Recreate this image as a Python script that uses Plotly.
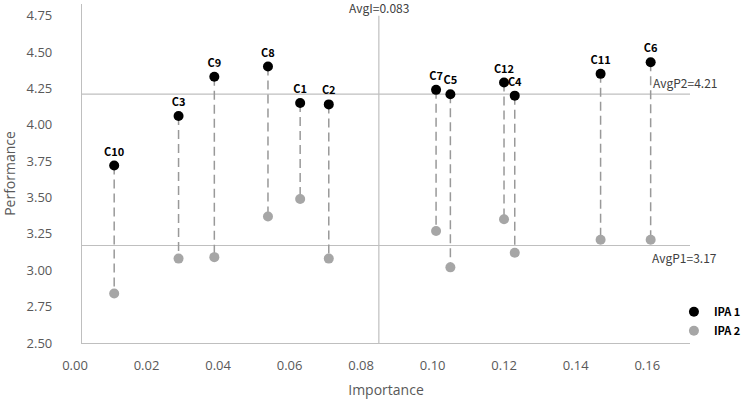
import plotly.graph_objects as go

labels = ["C10", "C3", "C9", "C8", "C1", "C2", "C7", "C5", "C12", "C4", "C11", "C6"]
importance = [0.009, 0.027, 0.037, 0.052, 0.061, 0.069, 0.099, 0.103, 0.118, 0.121, 0.145, 0.159]
ipa1 = [3.72, 4.06, 4.33, 4.40, 4.15, 4.14, 4.24, 4.21, 4.29, 4.20, 4.35, 4.43]
ipa2 = [2.84, 3.08, 3.09, 3.37, 3.49, 3.08, 3.27, 3.02, 3.35, 3.12, 3.21, 3.21]

avg_i = 0.083
avg_p1 = 3.17
avg_p2 = 4.21
x_range = [0, 0.17]
y_range = [2.5, 4.83]
x_ticks = [0.00, 0.02, 0.04, 0.06, 0.08, 0.10, 0.12, 0.14, 0.16]
y_ticks = [2.50, 2.75, 3.00, 3.25, 3.50, 3.75, 4.00, 4.25, 4.50, 4.75]

fig = go.Figure()

# reference lines
fig.add_trace(go.Scatter(x=[avg_i, avg_i], y=[y_range[0], 4.75], mode="lines",
                         line=dict(color="#bfbfbf", width=1.2), showlegend=False, hoverinfo="skip"))
fig.add_trace(go.Scatter(x=x_range, y=[avg_p2, avg_p2], mode="lines",
                         line=dict(color="#bfbfbf", width=1.2), showlegend=False, hoverinfo="skip"))
fig.add_trace(go.Scatter(x=x_range, y=[avg_p1, avg_p1], mode="lines",
                         line=dict(color="#bfbfbf", width=1.2), showlegend=False, hoverinfo="skip"))

# dashed connectors
lx, ly = [], []
for xi, a, b in zip(importance, ipa1, ipa2):
    lx += [xi, xi, None]
    ly += [a, b, None]
fig.add_trace(go.Scatter(x=lx, y=ly, mode="lines",
                         line=dict(color="#999999", width=1.5, dash="9px,5px"),
                         showlegend=False, hoverinfo="skip"))

fig.add_trace(go.Scatter(x=importance, y=ipa2, mode="markers", name="IPA 2",
                         marker=dict(color="#a6a6a6", size=10)))
fig.add_trace(go.Scatter(x=importance, y=ipa1, mode="markers+text", name="IPA 1",
                         text=labels, textposition="top center",
                         textfont=dict(family="Noto Sans CJK SC", size=11, color="#000000", weight="bold"),
                         marker=dict(color="#000000", size=10)))

ann_font = dict(family="Noto Sans CJK SC", size=12, color="#404040")
fig.add_annotation(x=avg_i, y=1.0, xref="x", yref="paper", text="AvgI=0.083",
                   showarrow=False, font=ann_font, yanchor="middle", yshift=-3)
fig.add_annotation(x=x_range[1], y=avg_p2, xref="x", yref="y", text="AvgP2=4.21",
                   showarrow=False, font=ann_font, xanchor="right", yanchor="bottom", xshift=29, yshift=1)
fig.add_annotation(x=x_range[1], y=avg_p1, xref="x", yref="y", text="AvgP1=3.17",
                   showarrow=False, font=ann_font, xanchor="right", yanchor="top", xshift=29, yshift=-1)

axis_font = dict(family="Open Sans", size=13, color="#595959")
fig.update_layout(
    width=750, height=402,
    margin=dict(l=82, r=60, t=4, b=59, autoexpand=False),
    plot_bgcolor="white", paper_bgcolor="white",
    showlegend=True,
    legend=dict(x=1.092, y=0.135, xanchor="right", yanchor="top",
                traceorder="reversed",
                font=dict(family="Noto Sans CJK SC", size=11, color="#000000", weight="bold"),
                itemwidth=30, tracegroupgap=0, bgcolor="rgba(0,0,0,0)", borderwidth=0),
    xaxis=dict(range=x_range, tickvals=x_ticks, tickformat=".2f",
               showline=True, linecolor="#bfbfbf", linewidth=1.2,
               showgrid=False, zeroline=False, ticks="",
               tickfont=axis_font, ticklabelstandoff=10, ticklabelshift=-7,
               title=dict(text="Importance", font=dict(family="Open Sans", size=14, color="#595959"), standoff=12)),
    yaxis=dict(range=y_range, tickvals=y_ticks, tickformat=".2f",
               showline=True, linecolor="#bfbfbf", linewidth=1.2,
               showgrid=False, zeroline=False, ticks="",
               tickfont=axis_font, ticklabelstandoff=26,
               title=dict(text="Performance", font=dict(family="Open Sans", size=14, color="#595959"), standoff=10)),
)

fig.write_html("out.html")
